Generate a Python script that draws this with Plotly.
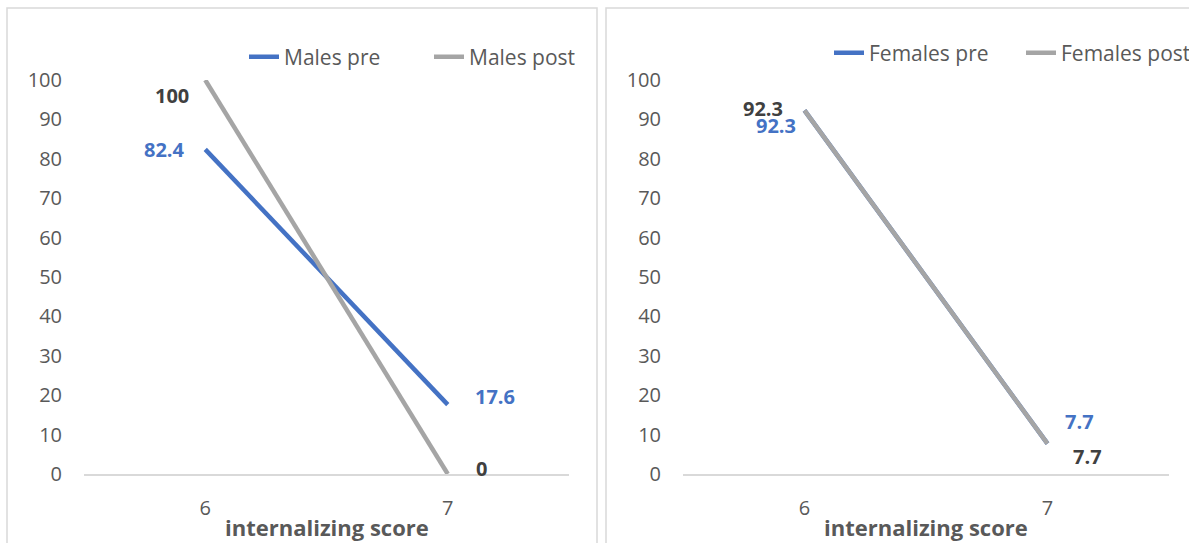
import plotly.graph_objects as go

# Internalizing score categories
categories = ["6", "7"]

# Percentages by group, before and after
males_pre = [82.4, 17.6]
males_post = [100, 0]
females_pre = [92.3, 7.7]
females_post = [92.3, 7.7]

y_ticks = [0, 10, 20, 30, 40, 50, 60, 70, 80, 90, 100]

BLUE = "#4472C4"
GREY = "#A5A5A5"
TEXT = "#595959"
LABEL_DARK = "#404040"
FONT = "Open Sans"

W, H = 1189, 543

# Category positions along the x axis
xpos = list(range(len(categories)))

fig = go.Figure()

fig.add_trace(go.Scatter(x=xpos, y=males_pre, mode="lines", name="Males pre",
                         line=dict(color=BLUE, width=4.5), xaxis="x", yaxis="y",
                         legend="legend"))
fig.add_trace(go.Scatter(x=xpos, y=males_post, mode="lines", name="Males post",
                         line=dict(color=GREY, width=4.5), xaxis="x", yaxis="y",
                         legend="legend"))
fig.add_trace(go.Scatter(x=xpos, y=females_pre, mode="lines", name="Females pre",
                         line=dict(color=BLUE, width=4.5), xaxis="x2", yaxis="y2",
                         legend="legend2"))
fig.add_trace(go.Scatter(x=xpos, y=females_post, mode="lines", name="Females post",
                         line=dict(color=GREY, width=4.5), xaxis="x2", yaxis="y2",
                         legend="legend2"))

# Data labels: (axis suffix, category index, value, color, xshift, yshift)
labels = [
    ("", 0, males_pre[0], BLUE, -41, 0),
    ("", 0, males_post[0], LABEL_DARK, -33, -15),
    ("", 1, males_pre[1], BLUE, 47, 8),
    ("", 1, males_post[1], LABEL_DARK, 34, 6),
    ("2", 0, females_post[0], LABEL_DARK, -42, 2),
    ("2", 0, females_pre[0], BLUE, -29, -15),
    ("2", 1, females_pre[1], BLUE, 32, 22),
    ("2", 1, females_post[1], LABEL_DARK, 40, -13),
]
annotations = []
for ax, idx, val, col, dx, dy in labels:
    txt = f"{val:g}"
    annotations.append(dict(
        x=xpos[idx], y=val, xref="x" + ax, yref="y" + ax,
        text=f"<b>{txt}</b>", showarrow=False, xshift=dx, yshift=dy,
        xanchor="center", yanchor="middle",
        font=dict(family=FONT, size=20, color=col)))

# Axis titles
for cx in [(84 + 569) / 2 / W, (683 + 1169) / 2 / W]:
    annotations.append(dict(
        x=cx, y=1 - 527 / H, xref="paper", yref="paper",
        xanchor="center", yanchor="middle",
        text="<b>internalizing score</b>", showarrow=False,
        font=dict(family=FONT, size=22, color=TEXT)))

# Chart frames
shapes = [
    dict(type="rect", xref="paper", yref="paper",
         x0=7 / W, x1=597 / W, y0=-0.05, y1=1 - 8 / H,
         line=dict(color="#D9D9D9", width=1.5), layer="below"),
    dict(type="rect", xref="paper", yref="paper",
         x0=606 / W, x1=1.01, y0=-0.05, y1=1 - 8 / H,
         line=dict(color="#D9D9D9", width=1.5), layer="below"),
]

xaxis_common = dict(
    range=[-0.5, 1.5], tickvals=xpos, ticktext=categories,
    showgrid=False, zeroline=False,
    showline=True, linecolor="#D9D9D9", linewidth=1.5, ticks="",
    tickfont=dict(family=FONT, size=20, color=TEXT), ticklabelstandoff=15,
)
yaxis_common = dict(
    range=[0, 100], tickvals=y_ticks, showgrid=False, zeroline=False,
    showline=False, ticks="", tickfont=dict(family=FONT, size=20, color=TEXT),
    ticklabelstandoff=21,
)
y_dom = [69 / H, 1 - 80 / H]

legend_common = dict(
    orientation="h", xanchor="left", yanchor="middle",
    font=dict(family=FONT, size=21, color=TEXT),
    bgcolor="rgba(0,0,0,0)", entrywidthmode="pixels",
    itemwidth=30,
)

fig.update_layout(
    width=W, height=H,
    margin=dict(l=0, r=0, t=0, b=0, autoexpand=False),
    paper_bgcolor="white", plot_bgcolor="white",
    font=dict(family=FONT, color=TEXT),
    xaxis=dict(domain=[84 / W, 569 / W], anchor="y", **xaxis_common),
    yaxis=dict(domain=y_dom, anchor="x", **yaxis_common),
    xaxis2=dict(domain=[683 / W, 1169 / W], anchor="y2", **xaxis_common),
    yaxis2=dict(domain=y_dom, anchor="x2", **yaxis_common),
    legend=dict(x=244 / W, y=1 - 57 / H, entrywidth=140, **legend_common),
    legend2=dict(x=829 / W, y=1 - 53 / H, entrywidth=147, **legend_common),
    annotations=annotations,
    shapes=shapes,
    showlegend=True,
)

fig.write_html("out.html")
